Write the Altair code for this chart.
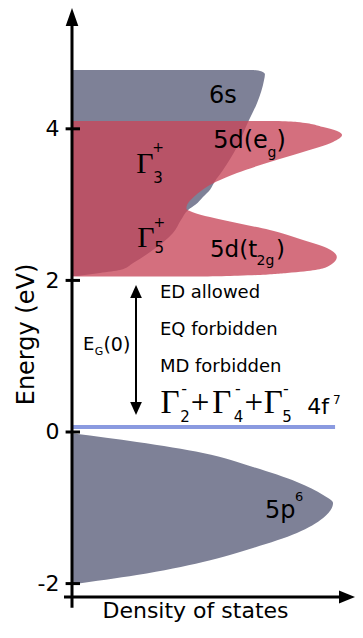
import altair as alt
import pandas as pd

# ---------------- data (energy in eV, density of states in arbitrary units) -------------
# 6s band (right edge of the shape, from bottom to top)
s6_E = [2.058, 2.098, 2.137, 2.23, 2.401, 2.625, 2.80, 2.93, 3.0, 3.1, 3.2, 3.3, 3.456, 3.76, 4.09, 4.34, 4.644, 4.72, 4.76, 4.776]
s6_D = [1.7, 9.6, 16.5, 21.0, 27.8, 34.7, 37.5, 39.9, 42.5, 45.0, 47.5, 49.0, 51.9, 56.7, 60.5, 63.6, 66.0, 66.3, 65.0, 62.5]

# 5d band (t2g lobe + eg lobe)
d5_E = [2.052, 2.062, 2.098, 2.177, 2.31, 2.427, 2.533, 2.665, 2.757, 2.836, 2.90, 2.95, 3.0, 3.1, 3.2, 3.30,
        3.417, 3.562, 3.694, 3.826, 3.918, 3.971, 4.024, 4.09, 4.103]
d5_D = [45.0, 57.0, 73.9, 87.6, 91.0, 87.6, 79.4, 68.0, 56.7, 47.4, 41.5, 39.3, 39.6, 41.8, 45.0, 49.5,
        56.7, 68.0, 79.4, 89.7, 92.8, 91.1, 86.3, 77.3, 70.0]

# 5p6 band
p5_E = [-2.01, -1.887, -1.715, -1.53, -1.332, -1.135, -0.937, -0.831, -0.66, -0.462, -0.277, -0.132, -0.02]
p5_D = [0.0, 22.3, 45.0, 62.2, 77.3, 86.3, 89.7, 86.3, 77.3, 62.2, 45.0, 22.3, 0.5]

# 4f7 level
f4_E = 0.066
f4_D = 90.4

# energy gap arrow
gap_top = 1.94
gap_bottom = 0.224

y_ticks = [-2, 0, 2, 4]

# ---------------- scales / axes ----------------
Y_MIN, Y_MAX = -2.177, 5.594
X_MAX = 97.25
xs = alt.Scale(domain=[0, X_MAX], nice=False, zero=False)
ys = alt.Scale(domain=[Y_MIN, Y_MAX], nice=False, zero=False)

FONT = "DejaVu Sans"
SERIF = "Liberation Serif"

xaxis = alt.Axis(domain=False, ticks=False, tickSize=0, labels=False, grid=False,
                 title="Density of states", titleFont=FONT, titleFontSize=22,
                 titleFontWeight="normal", titleColor="black",
                 titleX=123, titleY=20, titleAlign="center", titleBaseline="alphabetic")
yaxis = alt.Axis(values=y_ticks, domain=False, ticks=False, tickSize=0, grid=False,
                 labelFont=FONT, labelFontSize=22, labelColor="black", labelPadding=13,
                 labelExpr="replace(datum.label, '\u2212', '-')",
                 title="Energy (eV)", titleFont=FONT, titleFontSize=24,
                 titleFontWeight="normal", titleColor="black",
                 titleX=-46, titleY=326, titleAlign="center", titleBaseline="middle")

X = alt.X("dos:Q", scale=xs, axis=xaxis, stack=None)
Y = alt.Y("E:Q", scale=ys, axis=yaxis)

GRAY = "#7e8197"
RED = "#c8465a"


def band(E, D):
    return pd.DataFrame({"E": E, "dos": D, "base": [0.0] * len(E)})


def area(E, D, color, op):
    return alt.Chart(band(E, D)).mark_area(
        orient="horizontal", interpolate="monotone", color=color, opacity=op
    ).encode(x=X, x2="base:Q", y=Y)


s6 = area(s6_E, s6_D, GRAY, 1)
d5 = area(d5_E, d5_D, RED, 0.78)
p5 = area(p5_E, p5_D, GRAY, 1)

f4 = alt.Chart(pd.DataFrame({"E": [f4_E], "dos": [0.0], "dos2": [f4_D]})).mark_rule(
    color="#8a9ae0", strokeWidth=4
).encode(x=X, x2="dos2:Q", y=Y)

# axis lines and ticks (drawn as rules)
y_line = alt.Chart(pd.DataFrame({"dos": [0.0], "E": [-2.32], "E2": [5.36]})).mark_rule(
    color="black", strokeWidth=3
).encode(x=X, y=Y, y2="E2:Q")

x_line = alt.Chart(pd.DataFrame({"E": [Y_MIN], "dos": [-2.75], "dos2": [X_MAX - 5.2]})).mark_rule(
    color="black", strokeWidth=3
).encode(x=X, x2="dos2:Q", y=Y)

ticks = alt.Chart(pd.DataFrame({"E": y_ticks, "dos": [-2.2] * 4, "dos2": [2.75] * 4})).mark_rule(
    color="black", strokeWidth=3
).encode(x=X, x2="dos2:Q", y=Y)

gap_line = alt.Chart(pd.DataFrame({"dos": [22.0], "E": [gap_bottom + 0.17], "E2": [gap_top - 0.17]})).mark_rule(
    color="black", strokeWidth=2
).encode(x=X, y=Y, y2="E2:Q")

heads = pd.DataFrame({
    "dos": [0.0, X_MAX, 22.0, 22.0],
    "E": [Y_MAX, Y_MIN, gap_top, gap_bottom],
    "shape": ["M0,0L0.7,2L-0.7,2Z", "M0,0L-2,-0.8L-2,0.8Z", "M0,0L0.9,2L-0.9,2Z", "M0,0L0.9,-2L-0.9,-2Z"],
    "sz": [324, 256, 169, 169],
})
arrows = alt.Chart(heads).mark_point(filled=True, opacity=1, color="black", strokeWidth=0).encode(
    x=X, y=Y, shape=alt.Shape("shape:N", scale=None), size=alt.Size("sz:Q", scale=None)
)

# ---------------- annotations ----------------
sans_left = pd.DataFrame([
    ("6s", 47.1, 4.34, 24),
    ("5d(e", 48.5, 3.747, 24), ("g", 67.2, 3.628, 14), (")", 70.3, 3.747, 24),
    ("5d(t", 47.4, 2.309, 23), ("2g", 63.4, 2.203, 14), (")", 70.1, 2.309, 23),
    ("5p", 66.3, -1.135, 24), ("6", 76.6, -0.917, 13),
    ("4f", 80.8, 0.237, 22), ("7", 89.7, 0.369, 12),
    ("E", 3.78, 1.082, 18), ("G", 7.8, 1.016, 11), ("(0)", 10.8, 1.069, 19),
    ("ED allowed", 30.2, 1.768, 18),
    ("EQ forbidden", 30.2, 1.280, 18),
    ("MD forbidden", 30.2, 0.792, 18),
], columns=["txt", "dos", "E", "fs"])

sans_center = pd.DataFrame([
    ("+", 29.6, 3.694, 14), ("3", 29.6, 3.285, 15),
    ("+", 30.0, 2.704, 14), ("5", 30.0, 2.361, 15),
    ("2", 38.8, 0.132, 15), ("4", 57.2, 0.132, 15), ("5", 73.9, 0.132, 15),
    ("-", 38.5, 0.501, 16), ("-", 57.0, 0.501, 16), ("-", 73.5, 0.501, 16),
], columns=["txt", "dos", "E", "fs"])

serif_center = pd.DataFrame([
    ("Γ", 25.1, 3.417, 30), ("Γ", 25.4, 2.441, 30),
    ("Γ", 33.7, 0.251, 33), ("+", 44.0, 0.251, 33),
    ("Γ", 51.5, 0.251, 33), ("+", 62.5, 0.251, 33),
    ("Γ", 69.2, 0.251, 33),
], columns=["txt", "dos", "E", "fs"])


def text_layer(df, font, align):
    return alt.Chart(df).mark_text(font=font, align=align, baseline="alphabetic", color="black").encode(
        x=X, y=Y, text="txt:N", size=alt.Size("fs:Q", scale=None)
    )


chart = alt.layer(
    s6, d5, p5, f4, y_line, x_line, ticks, gap_line, arrows,
    text_layer(sans_left, FONT, "left"),
    text_layer(sans_center, FONT, "center"),
    text_layer(serif_center, SERIF, "center"),
).properties(
    width=283, height=589,
    autosize=alt.AutoSizeParams(type="none"),
    padding={"left": 64, "top": 0, "right": 0, "bottom": 25},
).configure_view(stroke=None)

chart.save("out.html", embed_options={"renderer": "svg", "actions": False})
